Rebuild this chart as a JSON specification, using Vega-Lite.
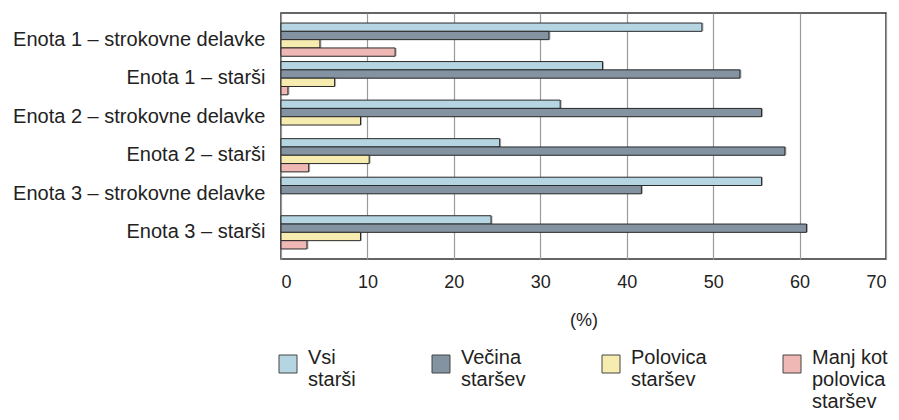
{
  "$schema": "https://vega.github.io/schema/vega-lite/v6.json",
  "width": 605,
  "height": 246,
  "autosize": {"type": "none"},
  "padding": {"left": 281, "top": 13, "right": 13, "bottom": 161},
  "background": "white",
  "config": {
    "font": "Liberation Sans",
    "view": {"stroke": "#333333", "strokeWidth": 1.5},
    "axis": {"labelColor": "#222222", "titleColor": "#222222", "labelFont": "Liberation Sans", "titleFont": "Liberation Sans"},
    "legend": {"labelColor": "#222222", "labelFont": "Liberation Sans"}
  },
  "data": {
    "values": [
      {"group": "Enota 1 – strokovne delavke", "series": "Vsi starši", "value": 48.7},
      {"group": "Enota 1 – strokovne delavke", "series": "Večina staršev", "value": 31.0},
      {"group": "Enota 1 – strokovne delavke", "series": "Polovica staršev", "value": 4.5},
      {"group": "Enota 1 – strokovne delavke", "series": "Manj kot polovica staršev", "value": 13.2},
      {"group": "Enota 1 – starši", "series": "Vsi starši", "value": 37.2},
      {"group": "Enota 1 – starši", "series": "Večina staršev", "value": 53.1},
      {"group": "Enota 1 – starši", "series": "Polovica staršev", "value": 6.2},
      {"group": "Enota 1 – starši", "series": "Manj kot polovica staršev", "value": 0.8},
      {"group": "Enota 2 – strokovne delavke", "series": "Vsi starši", "value": 32.3},
      {"group": "Enota 2 – strokovne delavke", "series": "Večina staršev", "value": 55.6},
      {"group": "Enota 2 – strokovne delavke", "series": "Polovica staršev", "value": 9.2},
      {"group": "Enota 2 – starši", "series": "Vsi starši", "value": 25.3},
      {"group": "Enota 2 – starši", "series": "Večina staršev", "value": 58.3},
      {"group": "Enota 2 – starši", "series": "Polovica staršev", "value": 10.2},
      {"group": "Enota 2 – starši", "series": "Manj kot polovica staršev", "value": 3.2},
      {"group": "Enota 3 – strokovne delavke", "series": "Vsi starši", "value": 55.6},
      {"group": "Enota 3 – strokovne delavke", "series": "Večina staršev", "value": 41.7},
      {"group": "Enota 3 – starši", "series": "Vsi starši", "value": 24.3},
      {"group": "Enota 3 – starši", "series": "Večina staršev", "value": 60.8},
      {"group": "Enota 3 – starši", "series": "Polovica staršev", "value": 9.2},
      {"group": "Enota 3 – starši", "series": "Manj kot polovica staršev", "value": 3.0}
    ]
  },
  "encoding": {
    "y": {
      "field": "group",
      "type": "nominal",
      "sort": null,
      "scale": {"paddingInner": 0.1375, "paddingOuter": 0.26},
      "axis": {"title": null, "ticks": false, "domain": false, "labelFontSize": 20, "labelPadding": 16, "labelLimit": 300}
    },
    "yOffset": {
      "field": "series",
      "type": "nominal",
      "sort": null,
      "scale": {"domain": ["Vsi starši", "Večina staršev", "Polovica staršev", "Manj kot polovica staršev"], "paddingInner": 0, "paddingOuter": 0}
    },
    "x": {
      "field": "value",
      "type": "quantitative",
      "scale": {"domain": [0, 70], "nice": false},
      "axis": {"title": "(%)", "values": [0, 10, 20, 30, 40, 50, 60, 70], "ticks": false, "domain": false, "labelFontSize": 18, "labelPadding": 14, "titleFontSize": 18, "titleFontWeight": "normal", "titlePadding": 20, "gridColor": "#9a9a9a", "gridWidth": 1.2, "gridOpacity": 1}
    }
  },
  "layer": [
    {
      "mark": {"type": "bar", "fill": "#b0b0b0", "strokeWidth": 0, "xOffset": 1.5}
    },
    {
      "mark": {"type": "bar", "stroke": "#2a2a2a", "strokeWidth": 1},
      "encoding": {
        "color": {
          "field": "series",
          "type": "nominal",
          "scale": {"domain": ["Vsi starši", "Večina staršev", "Polovica staršev", "Manj kot polovica staršev"], "range": ["#b5d5e2", "#8393a1", "#f6ecb0", "#f0b8b5"]},
          "legend": {
            "title": null,
            "orient": "none",
            "legendX": -3,
            "legendY": 341,
            "direction": "horizontal",
            "columns": 4,
            "columnPadding": 74,
            "padding": 0,
            "symbolType": "square",
            "symbolSize": 324,
            "symbolStrokeColor": "#444444",
            "symbolStrokeWidth": 1,
            "symbolOpacity": 1,
            "labelFontSize": 20,
            "labelOffset": 10,
            "labelBaseline": "alphabetic",
            "labelLimit": 200,
            "labelExpr": "datum.label == 'Manj kot polovica staršev' ? ['Manj kot', 'polovica', 'staršev'] : [split(datum.label, ' ')[0], split(datum.label, ' ')[1], '']"
          }
        }
      }
    }
  ]
}
